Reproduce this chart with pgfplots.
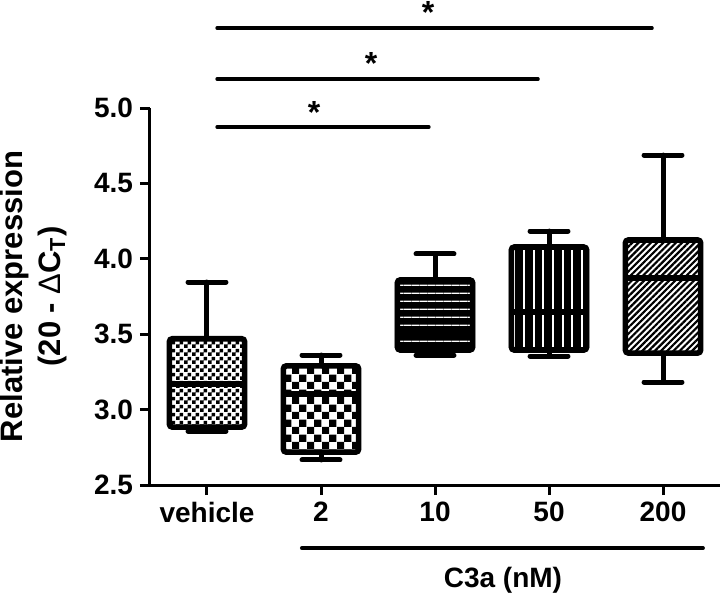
\documentclass[border=0pt]{standalone}
\usepackage{fontspec}
\setmainfont{Liberation Sans}
\usepackage{pgfplots}
\pgfplotsset{compat=1.18}
\usepgfplotslibrary{statistics}
\usetikzlibrary{patterns,patterns.meta}

\pgfdeclarepatternformonly{finecheck}{\pgfpointorigin}{\pgfpoint{4pt}{4pt}}{\pgfpoint{4pt}{4pt}}{%
  \pgfpathrectangle{\pgfpointorigin}{\pgfpoint{2pt}{2pt}}%
  \pgfpathrectangle{\pgfpoint{2pt}{2pt}}{\pgfpoint{2pt}{2pt}}%
  \pgfusepath{fill}}
\pgfdeclarepatternformonly{coarsecheck}{\pgfpointorigin}{\pgfpoint{7.3pt}{7.3pt}}{\pgfpoint{7.3pt}{7.3pt}}{%
  \pgfpathrectangle{\pgfpointorigin}{\pgfpoint{3.65pt}{3.65pt}}%
  \pgfpathrectangle{\pgfpoint{3.65pt}{3.65pt}}{\pgfpoint{3.65pt}{3.65pt}}%
  \pgfusepath{fill}}

\begin{document}
\begin{tikzpicture}
\useasboundingbox (-75pt,-55pt) rectangle (285.5pt,242.5pt);
\begin{axis}[
  at={(0,0)}, anchor=south west,
  x=57pt, y=75.4pt,
  xmin=-0.5, xmax=4.5, ymin=2.5, ymax=5.0,
  axis x line*=bottom, axis y line*=left,
  axis line style={-, line width=1.5pt, black},
  tick align=outside, major tick length=5pt,
  tick style={line width=1.5pt, black},
  xtick={0,1,2,3,4}, xticklabels={vehicle,2,10,50,200},
  ytick={2.5,3.0,3.5,4.0,4.5,5.0},
  yticklabel style={/pgf/number format/.cd, fixed, fixed zerofill, precision=1},
  /pgf/number format/assume math mode=true,
  tick label style={font=\fontsize{14}{16}\selectfont\bfseries},
  ylabel={Relative expression\\(20 - {\mdseries Δ}C\textsubscript{T})},
  ylabel style={at={(axis description cs:-0.1456,0.5)}, anchor=south, rotate=0,
    align=center, inner sep=0pt, font=\fontsize{15.5}{19}\selectfont\bfseries},
  boxplot/draw direction=y,
  clip=false,
]
% vehicle
\addplot[black, line width=2.5pt, line cap=round,
  boxplot prepared={draw position=0, median=3.17, upper quartile=3.47, lower quartile=2.884,
    upper whisker=3.846, lower whisker=2.858, box extend=0.66, whisker extend=0.333},
  boxplot/every box/.style={draw=black, line width=2.8pt, rounded corners=1.5pt, pattern=finecheck, pattern color=black},
  boxplot/every median/.style={line width=3pt, line cap=butt},
] coordinates {};
% 2
\addplot[black, line width=2.5pt, line cap=round,
  boxplot prepared={draw position=1, median=3.103, upper quartile=3.29, lower quartile=2.718,
    upper whisker=3.362, lower whisker=2.666, box extend=0.66, whisker extend=0.333},
  boxplot/every box/.style={draw=black, line width=2.8pt, rounded corners=1.5pt, pattern=coarsecheck, pattern color=black},
  boxplot/every median/.style={line width=3pt, line cap=butt},
] coordinates {};
% 10
\addplot[black, line width=2.5pt, line cap=round,
  boxplot prepared={draw position=2, median=3.50, upper quartile=3.86, lower quartile=3.395,
    upper whisker=4.032, lower whisker=3.362, box extend=0.66, whisker extend=0.333},
  boxplot/every box/.style={draw=black, line width=2.8pt, rounded corners=1.5pt, preaction={fill=black},
    pattern={Lines[distance=3.85pt, angle=0, line width=0.7pt]}, pattern color=white},
  boxplot/every median/.style={line width=3pt, line cap=butt},
] coordinates {};
% 50
\addplot[black, line width=2.5pt, line cap=round,
  boxplot prepared={draw position=3, median=3.647, upper quartile=4.078, lower quartile=3.395,
    upper whisker=4.184, lower whisker=3.355, box extend=0.66, whisker extend=0.333},
  boxplot/every box/.style={draw=black, line width=2.8pt, rounded corners=1.5pt, preaction={fill=black},
    pattern={Lines[distance=4.85pt, angle=90, line width=1pt]}, pattern color=white},
  boxplot/every median/.style={line width=3pt, line cap=butt},
] coordinates {};
% 200
\addplot[black, line width=2.5pt, line cap=round,
  boxplot prepared={draw position=4, median=3.873, upper quartile=4.125, lower quartile=3.375,
    upper whisker=4.688, lower whisker=3.183, box extend=0.66, whisker extend=0.333},
  boxplot/every box/.style={draw=black, line width=2.8pt, rounded corners=1.5pt,
    pattern={Lines[distance=2.2pt, angle=45, line width=1.1pt]}, pattern color=black},
  boxplot/every median/.style={line width=3pt, line cap=butt},
] coordinates {};

% significance bars
\addplot[black, line width=1.7pt, line cap=round] coordinates {(0.088,4.874) (1.947,4.874)};
\addplot[black, line width=1.7pt, line cap=round] coordinates {(0.088,5.192) (2.904,5.192)};
\addplot[black, line width=1.7pt, line cap=round] coordinates {(0.088,5.530) (3.904,5.530)};
\node[anchor=north, inner sep=0pt, font=\fontsize{16}{16}\selectfont\bfseries] at (axis cs:0.94,5.046) {*};
\node[anchor=north, inner sep=0pt, font=\fontsize{16}{16}\selectfont\bfseries] at (axis cs:1.44,5.371) {*};
\node[anchor=north, inner sep=0pt, font=\fontsize{16}{16}\selectfont\bfseries] at (axis cs:1.94,5.71) {*};

% C3a bracket line
\draw[black, line width=2pt, line cap=round] (axis cs:0.833,2.082) -- (axis cs:4.35,2.082);
\node[anchor=base, inner sep=0pt, font=\fontsize{14}{16}\selectfont\bfseries] at (axis cs:2.596,1.8236) {C3a (nM)};
\end{axis}
\end{tikzpicture}
\end{document}
